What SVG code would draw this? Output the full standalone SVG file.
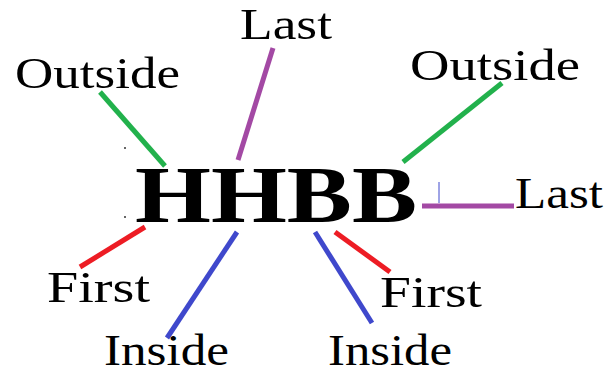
<svg xmlns="http://www.w3.org/2000/svg" width="610" height="369" viewBox="0 0 610 369">
<style>
.lbl{font-family:"Liberation Serif","Times New Roman",serif;font-size:44px;fill:#000}
.big{font-family:"Liberation Serif","Times New Roman",serif;font-size:80px;font-weight:bold;fill:#000}
.c{stroke-width:5;stroke-linecap:butt;fill:none}
.g{stroke:#22b14c}.p{stroke:#a349a4}.r{stroke:#ed1c24}.b{stroke:#3f48cc}
</style>
<rect width="610" height="369" fill="#fff"/>
<g id="connectors">
<line class="c g" x1="100" y1="92" x2="165" y2="166"/>
<line class="c p" x1="273" y1="48" x2="238" y2="160"/>
<line class="c g" x1="502" y1="83" x2="403" y2="162"/>
<line class="c p" x1="422" y1="206" x2="514" y2="206"/>
<line x1="439" y1="182" x2="439" y2="203" stroke="#3f48cc" stroke-width="1"/>
<line class="c r" x1="80" y1="267" x2="145" y2="227"/>
<line class="c b" x1="237" y1="232" x2="167" y2="338"/>
<line class="c r" x1="335" y1="232" x2="390" y2="272"/>
<line class="c b" x1="315" y1="232" x2="372" y2="323"/>
</g>
<g id="center"><text class="big" x="135" y="222" textLength="282" lengthAdjust="spacingAndGlyphs">HHBB</text></g>
<g id="dots"><circle cx="125" cy="148" r="1" fill="#333"/><circle cx="125" cy="217" r="1" fill="#333"/></g>
<g id="outside-left"><text class="lbl" x="15" y="88" textLength="165" lengthAdjust="spacingAndGlyphs">Outside</text></g>
<g id="last-top"><text class="lbl" x="240" y="39" textLength="92" lengthAdjust="spacingAndGlyphs">Last</text></g>
<g id="outside-right"><text class="lbl" x="410" y="80" textLength="170" lengthAdjust="spacingAndGlyphs">Outside</text></g>
<g id="last-right"><text class="lbl" x="515" y="208" textLength="88" lengthAdjust="spacingAndGlyphs">Last</text></g>
<g id="first-left"><text class="lbl" x="47" y="302" textLength="103" lengthAdjust="spacingAndGlyphs">First</text></g>
<g id="first-right"><text class="lbl" x="380" y="307" textLength="102" lengthAdjust="spacingAndGlyphs">First</text></g>
<g id="inside-left"><text class="lbl" x="104" y="365" textLength="125" lengthAdjust="spacingAndGlyphs">Inside</text></g>
<g id="inside-right"><text class="lbl" x="328" y="365" textLength="124" lengthAdjust="spacingAndGlyphs">Inside</text></g>
</svg>
